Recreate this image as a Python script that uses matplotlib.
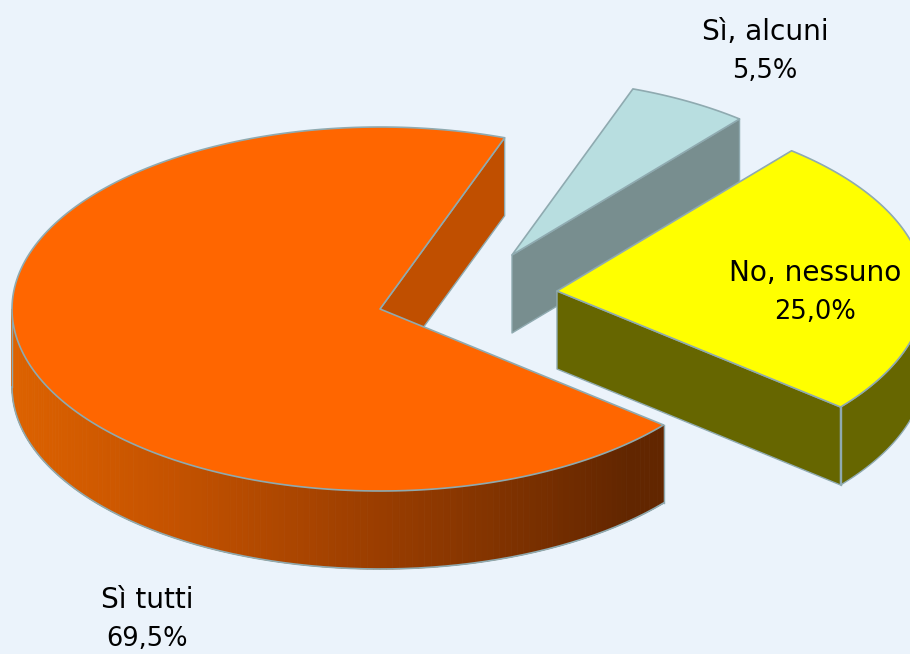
import numpy as np
import matplotlib
matplotlib.use('Agg')
import matplotlib.pyplot as plt
from matplotlib.patches import Polygon
from matplotlib.colors import LinearSegmentedColormap

# dati
labels = ['Sì tutti', 'No, nessuno', 'Sì, alcuni']
values = [69.5, 25.0, 5.5]

start_angle = 70.2
rx, ry = 368, 182
depth = 78
centers = [(380, 309), (557, 291), (512, 255)]
scales = [1.0, 1.0, 0.97]
top_colors = ['#FF6600', '#FFFF00', '#B8DEE0']
side_colors = ['#C04F00', '#666600', '#788E8F']
edge_color = '#8FAAB0'
label_pos = [(147, 600), (815, 273), (765, 32)]
bg = '#EBF3FB'

fig = plt.figure(figsize=(9.1, 6.54), dpi=100, facecolor=bg)
ax = fig.add_axes([0, 0, 1, 1])
ax.set_xlim(0, 910)
ax.set_ylim(654, 0)
ax.axis('off')

# sfumatura del bordo arancione
cmap = LinearSegmentedColormap.from_list(
    'side', [(0, '#DD6200'), (0.25, '#C45200'), (0.55, '#9C3E00'), (0.8, '#7A3000'), (0.95, '#622600'), (1, '#622600')])


def arc(i, a0, a1, dy=0, n=200):
    c = centers[i]
    t = np.radians(np.linspace(a0, a1, n))
    return np.column_stack([c[0] + scales[i] * rx * np.cos(t), c[1] - scales[i] * ry * np.sin(t) + dy])


def poly(pts, fc, ec='none', lw=0.0, z=1):
    ax.add_patch(Polygon(pts, closed=True, facecolor=fc, edgecolor=ec, linewidth=lw, zorder=z, joinstyle='round'))


def draw_slice(i, a0, a1, z):
    c = centers[i]
    tc, sc = top_colors[i], side_colors[i]
    p0 = arc(i, a0, a0, 0, 1)[0]
    p1 = arc(i, a1, a1, 0, 1)[0]
    apex = np.array(c, dtype=float)
    down = np.array([0, depth])

    # faccia interna visibile
    poly([apex, p0, p0 + down, apex + down], sc, edge_color, 1.0, z)

    # parete esterna
    if i == 0:
        for a in np.arange(180, a1, 1.0):
            b = min(a + 1.0, a1)
            seg = np.vstack([arc(i, a, b, 0, 3), arc(i, b, a, depth, 3)])
            x = c[0] + rx * np.cos(np.radians((a + b) / 2))
            col = cmap((x - 12) / (662 - 12))
            poly(seg, col, col, 0.6, z)
        ax.plot(*arc(i, 180, a1, depth).T, color=edge_color, lw=1.2, zorder=z)
        ax.plot([p1[0], p1[0]], [p1[1], p1[1] + depth], color=edge_color, lw=1.0, zorder=z)
        ax.plot([c[0] - rx, c[0] - rx], [c[1], c[1] + depth], color=edge_color, lw=1.0, zorder=z)
    elif i == 1:
        poly(np.vstack([arc(i, a0, 360), arc(i, 360, a0, depth)]), sc, edge_color, 1.0, z)
        ax.plot([p0[0], p0[0]], [p0[1], p0[1] + depth], color=edge_color, lw=1.0, zorder=z)

    # faccia superiore
    poly(np.vstack([apex, arc(i, a0, a1)]), tc, edge_color, 1.2, z + 0.5)


# angoli dai valori: arancione, giallo, azzurro in senso antiorario
angles = np.cumsum([0] + [v * 3.6 for v in values]) + start_angle
draw_slice(0, angles[0], angles[1], 1)
draw_slice(2, angles[2], angles[3], 2)
draw_slice(1, angles[1], angles[2], 3)

for lab, v, (x, y) in zip(labels, values, label_pos):
    pct = f'{v:.1f}'.replace('.', ',') + '%'
    ax.text(x, y, lab, ha='center', va='center', fontsize=20.2, family='DejaVu Sans', color='black', zorder=10)
    ax.text(x, y + 39, pct, ha='center', va='center', fontsize=18.5, family='DejaVu Sans', color='black', zorder=10)

fig.savefig('out.png', dpi=100, facecolor=bg)
